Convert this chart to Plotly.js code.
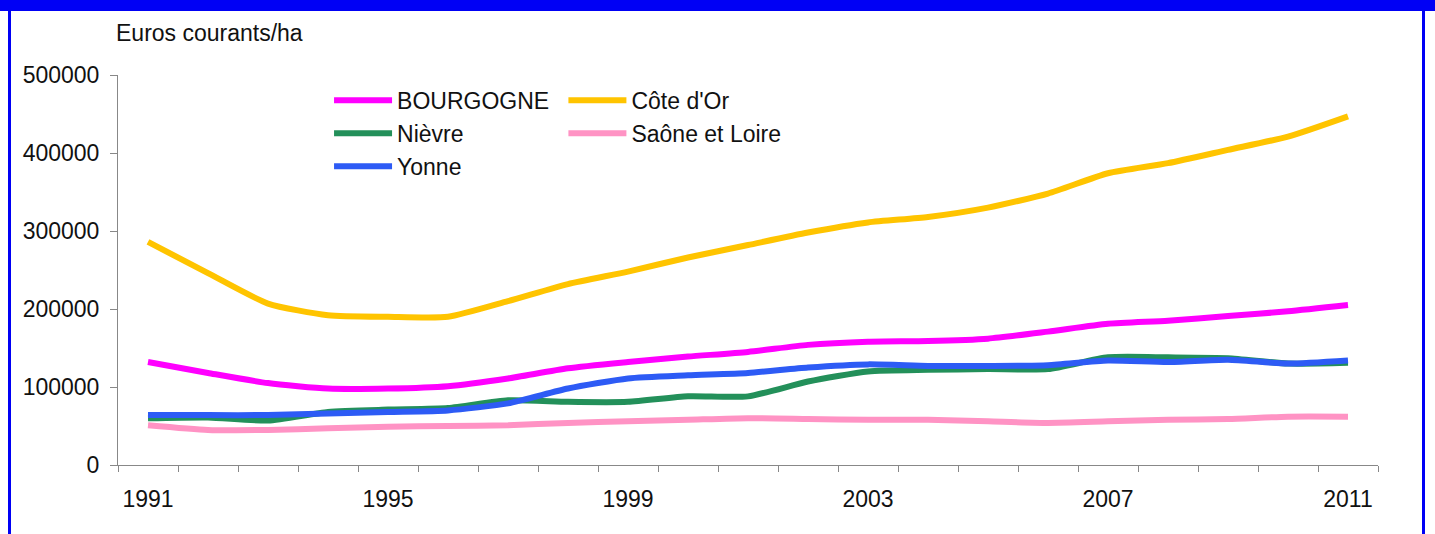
<!DOCTYPE html>
<html>
<head>
<meta charset="utf-8">
<script src="https://cdn.plot.ly/plotly-3.0.1.min.js"></script>
<style>
  html, body { margin: 0; padding: 0; background: #fff; }
  #wrap { position: relative; width: 1435px; height: 534px; overflow: hidden; }
  #chart { position: absolute; left: 0; top: 0; width: 1435px; height: 534px; }
  .frame { position: absolute; background: #0000F5; z-index: 10; pointer-events: none; }
</style>
</head>
<body>
<div id="wrap">
  <div id="chart"></div>
  <div class="frame" style="left:0;top:0;width:1435px;height:11px;"></div>
  <div class="frame" style="left:8px;top:0;width:3px;height:534px;"></div>
  <div class="frame" style="left:1422px;top:0;width:3px;height:534px;"></div>
</div>
<script>
// ---- data (Euros courants / ha) ----
const years = [1991,1992,1993,1994,1995,1996,1997,1998,1999,2000,2001,2002,2003,2004,2005,2006,2007,2008,2009,2010,2011];
const bourgogne   = [132000,118000,105000,98000,98000,101000,111000,124000,132000,139000,145000,154000,158000,159000,162000,171000,181000,185000,191000,197000,205000];
const coteDOr     = [286000,246000,207000,192000,190000,190000,210000,232000,248000,266000,282000,298000,311000,318000,330000,348000,374000,387000,404000,421000,447000];
const nievre      = [60000,61000,57000,68000,71000,73000,83000,81000,81000,88000,88000,107000,120000,122000,123000,123000,138000,138000,137000,130000,131000];
const saoneLoire  = [51000,45000,45000,47000,49000,50000,51000,54000,56000,58000,60000,59000,58000,58000,56000,54000,56000,58000,59000,62000,62000];
const yonne       = [64000,64000,64000,66000,68000,70000,79000,98000,111000,115000,118000,125000,129000,127000,127000,128000,134000,132000,135000,130000,134000];

const seriesNames = ['BOURGOGNE', "Côte d'Or", 'Nièvre', 'Saône et Loire', 'Yonne'];
const tickYears  = [1991, 1995, 1999, 2003, 2007, 2011];
const tickLabels = ['1991', '1995', '1999', '2003', '2007', '2011'];
const yTickVals  = [0, 100000, 200000, 300000, 400000, 500000];
const yTickText  = ['0', '100000', '200000', '300000', '400000', '500000'];
const yUnit = 'Euros courants/ha';

const FONT = 'Liberation Sans, Arial, Helvetica, sans-serif';
const FS = 23;

function mk(name, y, color, width, legend) {
  return {
    x: years, y: y, name: name, type: 'scatter', mode: 'lines',
    line: { color: color, width: width, shape: 'spline', smoothing: 0.6 },
    legend: legend, legendgroup: name, hoverinfo: 'x+y+name'
  };
}

const data = [
  mk(seriesNames[0], bourgogne,  '#FF00FF', 6, 'legend'),
  mk(seriesNames[1], coteDOr,    '#FFC400', 6, 'legend2'),
  mk(seriesNames[2], nievre,     '#23905A', 6, 'legend'),
  mk(seriesNames[3], saoneLoire, '#FF93C4', 6, 'legend2'),
  mk(seriesNames[4], yonne,      '#2D5BF5', 6, 'legend')
];

const legendCommon = {
  orientation: 'v', xanchor: 'left', yanchor: 'top',
  bgcolor: 'rgba(0,0,0,0)', borderwidth: 0,
  font: { family: FONT, size: FS, color: '#111' },
  itemwidth: 58, tracegroupgap: 6, traceorder: 'normal'
};

const layout = {
  width: 1435, height: 534,
  margin: { l: 118, r: 57, t: 75, b: 69 },
  paper_bgcolor: '#fff', plot_bgcolor: '#fff',
  font: { family: FONT, size: FS, color: '#111' },
  showlegend: true,
  legend:  Object.assign({}, legendCommon, { x: 0.1675, y: 0.99 }),
  legend2: Object.assign({}, legendCommon, { x: 0.3535, y: 0.99 }),
  xaxis: {
    type: 'linear', range: [1990.5, 2011.5],
    tickmode: 'array', tickvals: tickYears, ticktext: tickLabels,
    ticks: '', ticklabelstandoff: 13,
    minor: { ticks: 'outside', tick0: 1990.5, dtick: 1, ticklen: 6, tickcolor: '#888', tickwidth: 1 },
    showgrid: false, zeroline: false,
    showline: true, linecolor: '#888', linewidth: 1,
    tickfont: { family: FONT, size: FS, color: '#111' }
  },
  yaxis: {
    range: [0, 500000], tickmode: 'array', tickvals: yTickVals, ticktext: yTickText,
    ticks: 'outside', ticklen: 7, tickcolor: '#888', tickwidth: 1,
    ticklabelstandoff: 6,
    showgrid: false, zeroline: false,
    showline: true, linecolor: '#888', linewidth: 1,
    tickfont: { family: FONT, size: FS, color: '#111' }
  },
  annotations: [{
    text: yUnit, xref: 'paper', yref: 'paper', x: -0.003, y: 1.108,
    xanchor: 'left', yanchor: 'middle', showarrow: false,
    font: { family: FONT, size: FS, color: '#111' }
  }]
};

Plotly.newPlot('chart', data, layout, { displayModeBar: false, staticPlot: true });
</script>
</body>
</html>
